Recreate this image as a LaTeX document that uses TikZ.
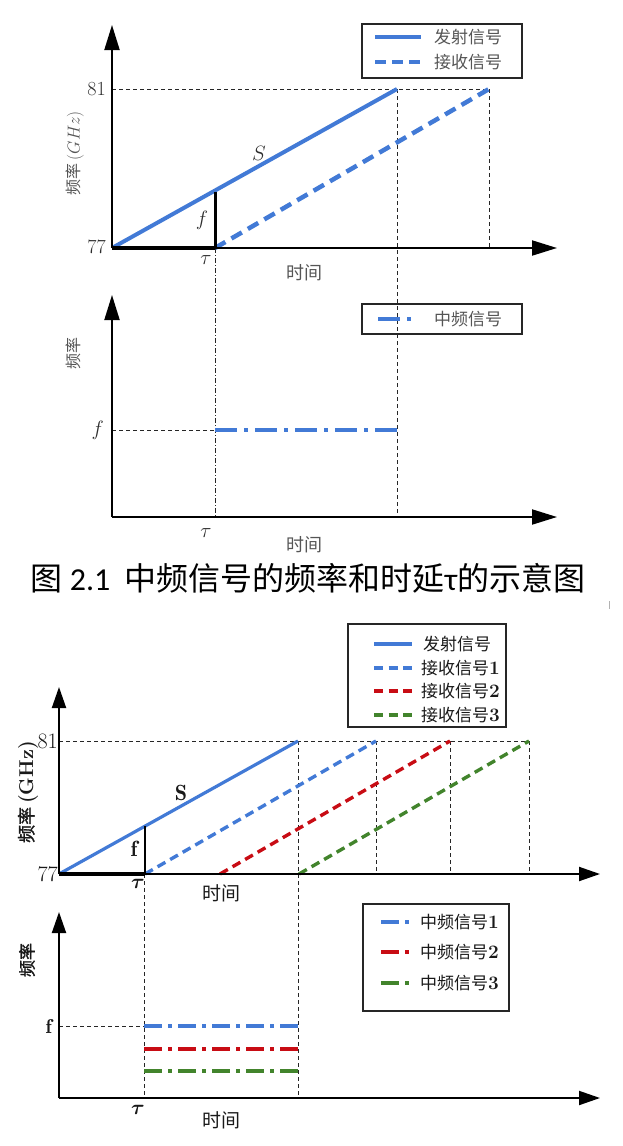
\documentclass[tikz,border=0pt]{standalone}
\usepackage{fontspec}
\usepackage{bm}
\usetikzlibrary{arrows.meta}
\newfontfamily\cjk{Noto Sans CJK SC}
\newfontfamily\cjkfb{Noto Sans CJK SC}[FakeBold=1.5]
\newfontfamily\calib{Carlito}
\definecolor{sigblue}{RGB}{66,122,214}
\definecolor{sigred}{RGB}{200,12,20}
\definecolor{siggreen}{RGB}{66,132,44}
\definecolor{lblgray}{RGB}{85,85,85}
\definecolor{numgray}{RGB}{45,45,45}
\begin{document}
\begin{tikzpicture}[x=1pt,y=-1pt,
  axisA/.style={line width=2pt,-{Triangle[length=25pt,width=15pt]}},
  axisB/.style={line width=2pt,-{Triangle[length=21pt,width=14pt]}},
  guide/.style={line width=1pt,draw=black!85,dash pattern=on 4pt off 3pt},
  guidedot/.style={line width=1pt,draw=black!85,dash pattern=on 5pt off 2pt on 1pt off 2pt},
  txA/.style={sigblue,line width=4pt},
  rxA/.style={sigblue,line width=4.5pt,dash pattern=on 12pt off 7pt},
  ifA/.style={sigblue,line width=4pt,dash pattern=on 22pt off 7pt on 4pt off 7pt},
  txB/.style={line width=3.2pt},
  rxB/.style={line width=3.4pt,dash pattern=on 9pt off 5.5pt},
  ifB/.style={line width=3.5pt,dash pattern=on 18pt off 6pt on 4pt off 6pt},
  tri/.style={line width=3pt,black},
  legbox/.style={draw=black!85,line width=1.3pt},
  lbA/.style={inner sep=0pt,font=\fontsize{17}{20}\selectfont\cjk,text=lblgray},
  lbB/.style={inner sep=0pt,font=\fontsize{17}{20}\selectfont\cjk,text=black!90},
  numA/.style={inner sep=0pt,font=\fontsize{20}{22}\selectfont,text=numgray},
  numB/.style={inner sep=0pt,font=\fontsize{22}{24}\selectfont,text=black!90}
]
\path[use as bounding box] (0,0) rectangle (623,1146);

% ================= Figure 2.1, upper chart =================
\coordinate (A0) at (112,248);
\coordinate (Ay) at (112,25);
\coordinate (Ax) at (557,248);
\coordinate (A81) at (112,89);
\coordinate (Atau) at (215,248);
\coordinate (Af) at (215,192);
\coordinate (Atx) at (397,89);
\coordinate (Arx) at (489,89);
\coordinate (Arxb) at (489,248);
\coordinate (Bbot397) at (397,517);
\coordinate (Bbottau) at (215,517);

\draw[guide] (A81) -- (Arx);
\draw[guide] (Arx) -- (Arxb);
\draw[guide] (Atx) -- (Bbot397);
\draw[guidedot] (Atau) -- (Bbottau);

\draw[txA] (A0) -- (Atx);
\draw[rxA] (Atau) -- (Arx);
\draw[tri] (Atau) -- (Af);
\draw[line width=3.5pt] (A0) -- (Atau);
\draw[axisA] (A0) -- (Ay);
\draw[axisA] (A0) -- (Ax);

\node[numA,anchor=east] (A81l) at (106,89) {81};
\node[numA,anchor=east] (A77l) at (106,247) {77};
\node[numA] (Ataul) at (206,260) {$\tau$};
\node[lbA,font=\fontsize{18}{20}\selectfont\cjk] (Atime) at (304,273) {时间};
\node[numA,font=\fontsize{21}{22}\selectfont] (AS) at (259,153) {$S$};
\node[numA,font=\fontsize{21}{22}\selectfont] (Afl) at (202,220) {$f$};
\node[lbA,rotate=90,font=\fontsize{16}{18}\selectfont] (Aylab) at (75,153) {\cjk 频率\,\normalfont\fontsize{17}{18}\selectfont($GHz$)};

% legend
\draw[legbox] (362,24) rectangle (522,78);
\coordinate (LA1a) at (375,37); \coordinate (LA1b) at (421,37);
\coordinate (LA2a) at (375,62); \coordinate (LA2b) at (421,62);
\draw[txA] (LA1a) -- (LA1b);
\draw[sigblue,line width=4.5pt,dash pattern=on 11pt off 6pt] (LA2a) -- (LA2b);
\node[lbA,anchor=west] (LAt1) at (434,37) {发射信号};
\node[lbA,anchor=west] (LAt2) at (434,62) {接收信号};

% ================= Figure 2.1, lower chart =================
\coordinate (B0) at (112,517);
\coordinate (By) at (112,295);
\coordinate (Bx) at (557,517);
\coordinate (Bf) at (112,430);
\coordinate (Bfs) at (215,430);
\coordinate (Bfe) at (397,430);

\draw[guide] (Bf) -- (Bfs);
\draw[ifA] (Bfs) -- (Bfe);
\draw[axisA] (B0) -- (By);
\draw[axisA] (B0) -- (Bx);

\node[numA,anchor=east,font=\fontsize{21}{22}\selectfont] (Bfl) at (104,430) {$f$};
\node[numA] (Btaul) at (206,533) {$\tau$};
\node[lbA,font=\fontsize{18}{20}\selectfont\cjk] (Btime) at (304,545) {时间};
\node[lbA,rotate=90,font=\fontsize{16}{18}\selectfont\cjk] (Bylab) at (73,353) {频率};

\draw[legbox] (362,304) rectangle (522,334);
\coordinate (LB1a) at (378,319); \coordinate (LB1b) at (411,319);
\draw[ifA] (LB1a) -- (LB1b);
\node[lbA,anchor=west] (LBt1) at (434,319) {中频信号};

% caption
\node[inner sep=0pt,text=black] (cap) at (308,578)
  {\fontsize{32}{38}\selectfont\cjk 图 \calib 2.1\ \ \cjk 中频信号的频率和时延\calib τ\cjk 的示意图};

\draw[black!30,line width=0.8pt] (609,601) -- (609,609);

% ================= Figure 2, upper chart =================
\coordinate (C0) at (59,874);
\coordinate (Cy) at (59,687);
\coordinate (Cx) at (600,874);
\coordinate (C81) at (59,741);
\coordinate (Ctau) at (145,874);
\coordinate (Cf) at (145,826);
\coordinate (Ctx) at (298,741);
\coordinate (Cr1) at (376,741);
\coordinate (Cr2s) at (220,874);
\coordinate (Cr2) at (450,741);
\coordinate (Cr3s) at (299,874);
\coordinate (Cr3) at (529,741);
\coordinate (Cv1) at (376,874);
\coordinate (Cv2) at (450,874);
\coordinate (Cv3) at (529,874);
\coordinate (Dbot298) at (298,1098);
\coordinate (Dbottau) at (144,1098);
\coordinate (Ctau2) at (144,874);

\draw[guide] (C81) -- (Cr3);
\draw[guide] (Cr1) -- (Cv1);
\draw[guide] (Cr2) -- (Cv2);
\draw[guide] (Cr3) -- (Cv3);
\draw[guide] (Ctx) -- (Dbot298);
\draw[guide] (Ctau2) -- (Dbottau);

\draw[txB,sigblue] (C0) -- (Ctx);
\draw[rxB,sigblue] (Ctau) -- (Cr1);
\draw[rxB,sigred] (Cr2s) -- (Cr2);
\draw[rxB,siggreen] (Cr3s) -- (Cr3);
\draw[tri,line width=2.6pt] (Ctau) -- (Cf);
\draw[line width=3.8pt] (C0) -- (Ctau);
\draw[axisB] (C0) -- (Cy);
\draw[axisB] (C0) -- (Cx);

\node[numB,anchor=east] (C81l) at (58,741) {81};
\node[numB,anchor=east] (C77l) at (58,874) {77};
\node[numB,font=\fontsize{20}{22}\selectfont] (Ctaul) at (138,884) {$\bm{\tau}$};
\node[lbB,font=\fontsize{19}{22}\selectfont\cjk] (Ctime) at (221,893) {时间};
\node[numB] (CS) at (181,793) {$\mathbf{S}$};
\node[numB] (Cfl) at (134,849) {$\mathbf{f}$};
\node[lbB,rotate=90,font=\fontsize{18}{20}\selectfont] (Cylab) at (28,792) {\cjkfb 频率\,\normalfont\fontsize{20}{22}\selectfont\textbf{(GHz)}};

\draw[legbox] (348,624) rectangle (506,727);
\coordinate (LC1a) at (374,644); \coordinate (LC1b) at (412,644);
\coordinate (LC2a) at (374,668); \coordinate (LC2b) at (412,668);
\coordinate (LC3a) at (374,691); \coordinate (LC3b) at (412,691);
\coordinate (LC4a) at (374,715); \coordinate (LC4b) at (412,715);
\draw[txB,sigblue] (LC1a) -- (LC1b);
\draw[rxB,sigblue] (LC2a) -- (LC2b);
\draw[rxB,sigred] (LC3a) -- (LC3b);
\draw[rxB,siggreen] (LC4a) -- (LC4b);
\node[lbB,anchor=west] (LCt1) at (423,644) {发射信号};
\node[lbB,anchor=west] (LCt2) at (421,668) {接收信号\normalfont\fontsize{19}{20}\selectfont\textbf{1}};
\node[lbB,anchor=west] (LCt3) at (421,691) {接收信号\normalfont\fontsize{19}{20}\selectfont\textbf{2}};
\node[lbB,anchor=west] (LCt4) at (421,715) {接收信号\normalfont\fontsize{19}{20}\selectfont\textbf{3}};

% ================= Figure 2, lower chart =================
\coordinate (D0) at (59,1098);
\coordinate (Dy) at (59,912);
\coordinate (Dx) at (600,1098);
\coordinate (Df) at (59,1026);
\coordinate (D1s) at (144,1026); \coordinate (D1e) at (298,1026);
\coordinate (D2s) at (144,1049); \coordinate (D2e) at (298,1049);
\coordinate (D3s) at (144,1071); \coordinate (D3e) at (298,1071);

\draw[guide] (Df) -- (D1s);
\draw[ifB,sigblue] (D1s) -- (D1e);
\draw[ifB,sigred] (D2s) -- (D2e);
\draw[ifB,siggreen] (D3s) -- (D3e);
\draw[axisB] (D0) -- (Dy);
\draw[axisB] (D0) -- (Dx);

\node[numB,anchor=east,font=\fontsize{20}{22}\selectfont] (Dfl) at (52,1026) {$\mathbf{f}$};
\node[numB,font=\fontsize{20}{22}\selectfont] (Dtaul) at (138,1110) {$\bm{\tau}$};
\node[lbB,font=\fontsize{19}{22}\selectfont\cjk] (Dtime) at (221,1120) {时间};
\node[lbB,rotate=90,font=\fontsize{17}{20}\selectfont\cjkfb] (Dylab) at (27,960) {频率};

\draw[legbox] (363,904) rectangle (509,1011);
\coordinate (LD1a) at (381,922); \coordinate (LD1b) at (409,922);
\coordinate (LD2a) at (381,952); \coordinate (LD2b) at (409,952);
\coordinate (LD3a) at (381,983); \coordinate (LD3b) at (409,983);
\draw[ifB,sigblue] (LD1a) -- (LD1b);
\draw[ifB,sigred] (LD2a) -- (LD2b);
\draw[ifB,siggreen] (LD3a) -- (LD3b);
\node[lbB,anchor=west] (LDt1) at (420,922) {中频信号\normalfont\fontsize{19}{20}\selectfont\textbf{1}};
\node[lbB,anchor=west] (LDt2) at (420,952) {中频信号\normalfont\fontsize{19}{20}\selectfont\textbf{2}};
\node[lbB,anchor=west] (LDt3) at (420,983) {中频信号\normalfont\fontsize{19}{20}\selectfont\textbf{3}};
\end{tikzpicture}
\end{document}
